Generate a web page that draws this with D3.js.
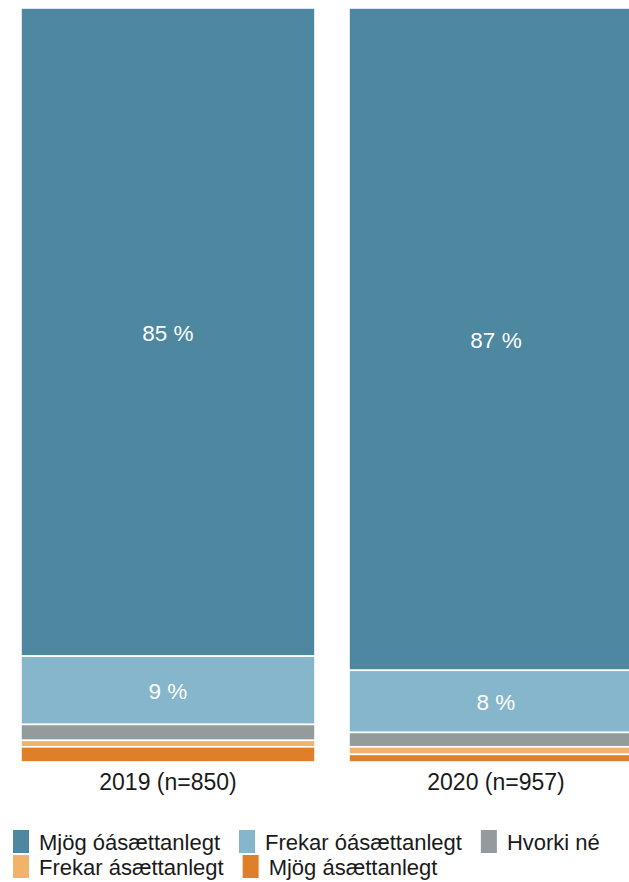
<!DOCTYPE html>
<html>
<head>
<meta charset="utf-8">
<script src="https://cdn.jsdelivr.net/npm/d3@7"></script>
<style>
  body { margin: 0; background: #fff; }
  svg { display: block; font-family: "Liberation Sans", Arial, sans-serif; }
</style>
</head>
<body>
<div id="chart"></div>
<script>
// categories and series (values in %)
const categories = ["2019 (n=850)", "2020 (n=957)"];
const seriesNames = ["Mjög óásættanlegt", "Frekar óásættanlegt", "Hvorki né", "Frekar ásættanlegt", "Mjög ásættanlegt"];
const mjogOasaett = [85.4, 87.4];
const frekarOasaett = [9.0, 8.2];
const hvorkiNe = [2.1, 1.9];
const frekarAsaett = [0.85, 1.0];
const mjogAsaett = [2.0, 1.0];
const seriesColors = ["#4e87a0", "#86b6cc", "#949b9d", "#efb36a", "#e07f2a"];

const width = 629, height = 882;

const rows = categories.map((c, i) => {
  const vals = [mjogOasaett[i], frekarOasaett[i], hvorkiNe[i], frekarAsaett[i], mjogAsaett[i]];
  const total = d3.sum(vals);
  const row = { cat: c };
  seriesNames.forEach((s, j) => { row[s] = vals[j] / total; row["raw_" + s] = vals[j]; });
  return row;
});

const stacked = d3.stack().keys(seriesNames)(rows);

const svg = d3.select("#chart").append("svg")
  .attr("width", width)
  .attr("height", height);

// x band scale runs a bit past the right edge, like the original
const x = d3.scaleBand()
  .domain(categories)
  .range([4, 660])
  .paddingInner(0.1037)
  .paddingOuter(0.0518);

const y = d3.scaleLinear().domain([0, 1]).range([762, 8]);

const color = d3.scaleOrdinal().domain(seriesNames).range(seriesColors);

// bars (first series at the top)
const layers = svg.append("g").selectAll("g")
  .data(stacked)
  .join("g")
    .attr("fill", d => color(d.key));

layers.selectAll("rect")
  .data(d => d.map(p => Object.assign(p, { key: d.key })))
  .join("rect")
    .attr("x", d => x(d.data.cat))
    .attr("width", x.bandwidth())
    .attr("y", d => y(1 - d[0]))
    .attr("height", d => y(1 - d[1]) - y(1 - d[0]))
    .attr("stroke", "#fff")
    .attr("stroke-width", 1.6);

// value labels inside the big segments
layers.selectAll("text")
  .data(d => d.filter(p => p.data["raw_" + d.key] >= 5))
  .join("text")
    .attr("x", d => x(d.data.cat) + x.bandwidth() / 2)
    .attr("y", d => (y(1 - d[0]) + y(1 - d[1])) / 2)
    .attr("dy", "0.38em")
    .attr("text-anchor", "middle")
    .attr("fill", "#fff")
    .style("font-size", "22.5px")
    .text(d => Math.round(d.data["raw_" + d.key]) + " %");

// category axis
const xAxis = svg.append("g")
  .attr("transform", "translate(0,762)")
  .call(d3.axisBottom(x).tickSize(0).tickPadding(12));
xAxis.select(".domain").remove();
xAxis.selectAll("text")
  .attr("fill", "#1a1a1a")
  .style("font-family", "'Liberation Sans', Arial, sans-serif")
  .style("font-size", "23px");

// legend, wrapping like a flow layout
const legend = svg.append("g");
let lx = 13, ly = 850;
seriesNames.forEach(name => {
  const item = legend.append("g");
  item.append("rect")
    .attr("width", 16)
    .attr("height", 23)
    .attr("y", -20)
    .attr("fill", color(name));
  const t = item.append("text")
    .attr("x", 26)
    .attr("fill", "#1a1a1a")
    .style("font-size", "22px")
    .text(name);
  const w = 26 + t.node().getComputedTextLength();
  if (lx + w > 620) { lx = 13; ly += 25; }
  item.attr("transform", `translate(${lx},${ly})`);
  lx += w + 19;
});
</script>
</body>
</html>
